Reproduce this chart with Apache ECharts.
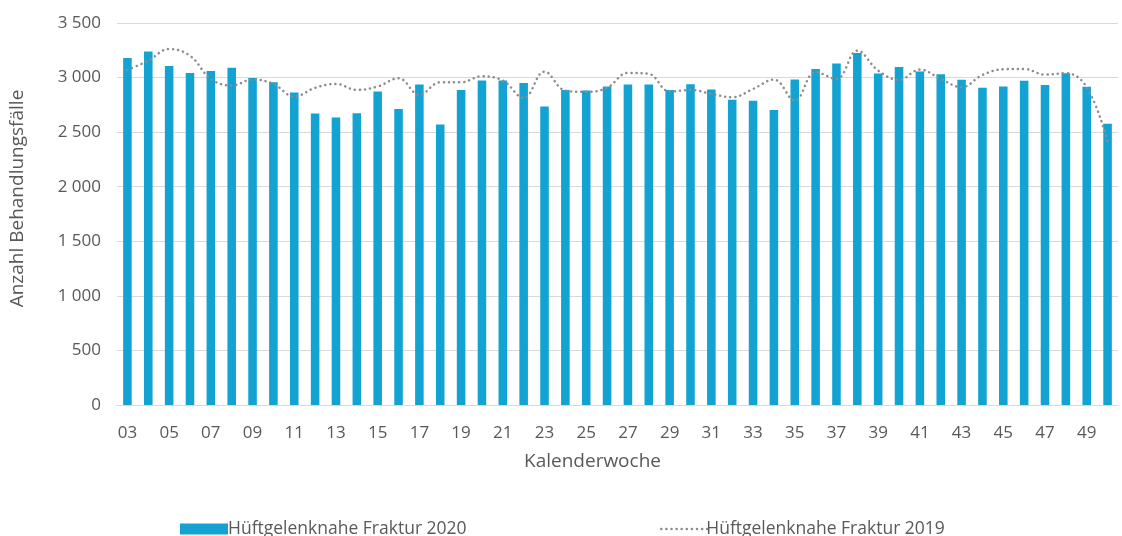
<!DOCTYPE html>
<html style="height: 100%">
<head>
    <meta charset="utf-8">
    <script src="https://cdn.jsdelivr.net/npm/echarts@6/dist/echarts.min.js"></script>
</head>
<body style="height: 100%;margin: 0">
<div id="chart" style="width: 1122px; height: 536px;"></div>
<script type="text/javascript">
// Kalenderwochen 03..50
var weeks = ['03','04','05','06','07','08','09','10','11','12','13','14','15','16','17','18','19','20',
    '21','22','23','24','25','26','27','28','29','30','31','32','33','34','35','36','37','38',
    '39','40','41','42','43','44','45','46','47','48','49','50'];
// Hüftgelenknahe Fraktur 2020 (Säulen)
var fraktur2020 = [3180,3238,3107,3043,3061,3089,2997,2957,2863,2671,2634,2674,2872,2713,2936,2570,2887,2973,
    2973,2951,2735,2887,2881,2918,2936,2936,2887,2939,2890,2796,2787,2704,2982,3079,3128,3226,
    3037,3098,3055,3030,2979,2906,2918,2970,2933,3040,2915,2576];
// Hüftgelenknahe Fraktur 2019 (gepunktete Linie)
var fraktur2019 = [3070,3155,3262,3200,2988,2927,2982,2942,2826,2906,2942,2887,2918,2994,2842,2957,2957,3012,
    2973,2814,3055,2881,2869,2906,3043,3034,2872,2887,2851,2820,2896,2982,2790,3049,2988,3247,
    3064,2979,3073,2988,2912,3024,3076,3079,3027,3040,2912,2414];

var textColor = '#595959';
var fontFam = 'Open Sans';

var myChart = echarts.init(document.getElementById('chart'));
var option = {
    animation: false,
    textStyle: {fontFamily: fontFam, color: textColor},
    grid: {left: 117, right: 4, top: 23, bottom: 131},
    legend: [
        {
            left: 175, top: 515,
            itemWidth: 48, itemHeight: 11,
            textStyle: {fontFamily: fontFam, fontSize: 17.5, color: textColor, padding: [0, 0, 0, -5]},
            data: [{name: 'Hüftgelenknahe Fraktur 2020', icon: 'rect'}]
        },
        {
            left: 655, top: 515,
            itemWidth: 46, itemHeight: 11,
            itemStyle: {opacity: 0},
            lineStyle: {color: '#8c8c8c', width: 2.5, type: [0.1, 5], cap: 'round'},
            textStyle: {fontFamily: fontFam, fontSize: 17.5, color: textColor, padding: [0, 0, 0, -6]},
            data: ['Hüftgelenknahe Fraktur 2019']
        }
    ],
    xAxis: {
        type: 'category',
        data: weeks,
        name: 'Kalenderwoche',
        nameLocation: 'middle',
        nameGap: 47,
        nameTextStyle: {fontSize: 19, color: textColor, padding: [0, 50, 0, 0]},
        axisLine: {lineStyle: {color: '#d9d9d9', width: 1}},
        axisTick: {show: false},
        axisLabel: {interval: 1, fontSize: 17, color: textColor, margin: 20}
    },
    yAxis: {
        type: 'value',
        min: 0, max: 3500, interval: 500,
        name: 'Anzahl Behandlungsfälle',
        nameLocation: 'middle',
        nameGap: 90,
        nameTextStyle: {fontSize: 19, color: textColor, padding: [0, 0, 0, 31]},
        axisLine: {show: false},
        axisTick: {show: false},
        splitLine: {lineStyle: {color: '#d9d9d9', width: 1}},
        axisLabel: {
            fontSize: 17, color: textColor, margin: 16,
            formatter: function (v) {
                return String(v).replace(/\B(?=(\d{3})+(?!\d))/g, ' ');
            }
        }
    },
    series: [
        {
            name: 'Hüftgelenknahe Fraktur 2020',
            type: 'bar',
            data: fraktur2020,
            barWidth: '41%',
            itemStyle: {color: '#12a3d2'}
        },
        {
            name: 'Hüftgelenknahe Fraktur 2019',
            type: 'line',
            data: fraktur2019,
            smooth: 0.4,
            showSymbol: false,
            symbol: 'none',
            itemStyle: {color: '#8c8c8c'},
            lineStyle: {color: '#8c8c8c', width: 2.5, type: [0.1, 5], cap: 'round'}
        }
    ]
};
myChart.setOption(option);
</script>
</body>
</html>
